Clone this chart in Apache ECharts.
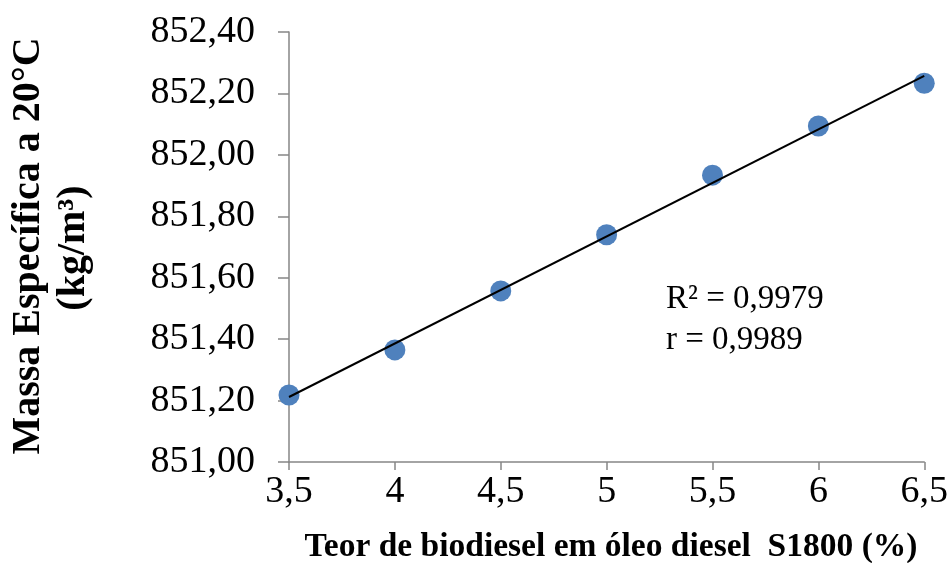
<!DOCTYPE html>
<html>
<head>
<meta charset="utf-8">
<script src="https://cdn.jsdelivr.net/npm/echarts@6/dist/echarts.min.js"></script>
<style>html,body{margin:0;padding:0;background:#fff;}#c{width:951px;height:563px;}</style>
</head>
<body>
<div id="c"></div>
<script>
const teor = [3.5, 4, 4.5, 5, 5.5, 6, 6.5];
const massa = [851.218, 851.365, 851.557, 851.740, 851.934, 852.094, 852.233];
const xTitle = 'Teor de biodiesel em óleo diesel  S1800 (%)';
const yTitle1 = 'Massa Específica a 20°C';
const yTitle2 = '(kg/m³)';
const r2Text = 'R² = 0,9979';
const rText = 'r = 0,9989';

// least squares trend line
const n = teor.length;
const mx = teor.reduce((a, b) => a + b, 0) / n;
const my = massa.reduce((a, b) => a + b, 0) / n;
let sxy = 0, sxx = 0;
for (let i = 0; i < n; i++) { sxy += (teor[i] - mx) * (massa[i] - my); sxx += (teor[i] - mx) ** 2; }
const slope = sxy / sxx, icpt = my - slope * mx;
const xMin = Math.min(...teor), xMax = Math.max(...teor);
const trend = [[xMin, icpt + slope * xMin], [xMax, icpt + slope * xMax]];

const FONT = '"Liberation Serif", "Times New Roman", serif';
function txt(x, y, s, size, bold, align, rot) {
  return { type: 'text', x: x, y: y, rotation: rot || 0,
    style: { text: s, fontFamily: FONT, fontSize: size, fontWeight: bold ? 'bold' : 'normal',
      fill: '#000', align: align, verticalAlign: 'middle' } };
}
const chart = echarts.init(document.getElementById('c'));
chart.setOption({
  animation: false,
  grid: { left: 289, right: 26, top: 32, bottom: 101, containLabel: false },
  xAxis: {
    type: 'value', min: 3.5, max: 6.5, interval: 0.5,
    axisLine: { lineStyle: { color: '#868686', width: 1.5 } },
    axisTick: { show: true, length: 8, lineStyle: { color: '#868686', width: 1.5 } },
    splitLine: { show: false },
    axisLabel: { color: '#000', fontFamily: FONT, fontSize: 38, margin: 11,
      formatter: v => String(v).replace('.', ',') }
  },
  yAxis: {
    type: 'value', min: 851, max: 852.4, interval: 0.2,
    axisLine: { show: true, lineStyle: { color: '#868686', width: 1.5 } },
    axisTick: { show: true, length: 11, lineStyle: { color: '#868686', width: 1.5 } },
    splitLine: { show: false },
    axisLabel: { color: '#000', fontFamily: FONT, fontSize: 38, margin: 34,
      formatter: v => v.toFixed(2).replace('.', ',') }
  },
  series: [
    { type: 'scatter', data: teor.map((x, i) => [x, massa[i]]), symbol: 'circle', symbolSize: 21,
      itemStyle: { color: '#4F81BD', opacity: 1 }, z: 2 },
    { type: 'line', data: trend, symbol: 'none', lineStyle: { color: '#000', width: 2 }, z: 3 }
  ],
  graphic: [
    txt(611, 547, xTitle, 33.5, true, 'center'),
    txt(29, 246, yTitle1, 40, true, 'center', Math.PI / 2),
    txt(74, 248, yTitle2, 40, true, 'center', Math.PI / 2),
    txt(666, 299, r2Text, 33, false, 'left'),
    txt(666, 340, rText, 33, false, 'left')
  ]
});
</script>
</body>
</html>
